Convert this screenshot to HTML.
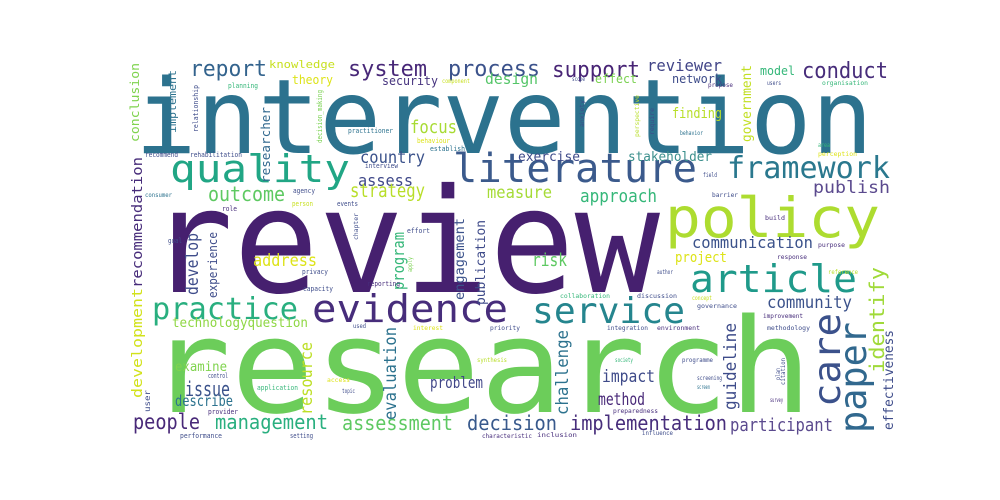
<!DOCTYPE html>
<html><head><meta charset="utf-8">
<style>
html,body{margin:0;padding:0;background:#fff;}
svg{display:block;}
text{font-family:"DejaVu Sans Mono","Liberation Mono",monospace;}
</style></head>
<body>
<svg id="cloud" width="1000" height="500" viewBox="0 0 1000 500" xmlns="http://www.w3.org/2000/svg">
<rect x="0" y="0" width="1000" height="500" fill="#ffffff"/>
</svg>
<script>
// [word, x, baselineY, fontSize, color, vertical, length]
const words = [
["intervention",135,153,103,"#2c728e",0,738],
["review",148,292,145,"#46206f",0,512],
["research",148,412,131,"#6ccd5a",0,664],
["policy",665,237,55,"#addc30",0,215],
["literature",453,182,40,"#3b5a8c",0,244],
["quality",170,182,38,"#21a685",0,180],
["framework",727,178,30,"#2a788e",0,163],
["article",690,292,38,"#1f9a8a",0,167],
["evidence",312,322,38,"#472d7b",0,196],
["service",532,323,36,"#25858e",0,153],
["practice",152,319,30,"#29af7f",0,146],
["care",840,407,37,"#3b518b",1,94],
["paper",866,433,37,"#31688e",1,111],
["identify",884,373,20,"#a0da39",1,106],
["effectiveness",893,430,13,"#3e4c8a",1,100],
["report",190,76,22,"#33638d",0,77],
["knowledge",269,68,11,"#c8e020",0,66],
["system",348,76,22,"#482878",0,79],
["process",448,76,22,"#3b528b",0,92],
["theory",292,84,12,"#dde318",0,41],
["security",382,85,12,"#46337e",0,56],
["component",442,83,6,"#c8e020",0,28],
["design",485,84,15,"#54c568",0,53],
["planning",228,88,7,"#35b779",0,30],
["relationship",198,132,7,"#3e4c8a",1,47],
["decision_making",322,143,7,"#7ad151",1,53],
["practitioner",348,133,7,"#2c728e",0,45],
["behaviour",417,143,7,"#dde318",0,33],
["establish",430,151,7,"#2c728e",0,35],
["interview",365,168,7,"#3e4c8a",0,33],
["recommend",145,157,7,"#3e4c8a",0,33],
["rehabilitation",190,157,7,"#3e4c8a",0,52],
["consumer",145,197,6,"#2c728e",0,27],
["agency",293,193,7,"#3e4c8a",0,22],
["person",292,206,7,"#c8e020",0,21],
["events",337,206,7,"#3e4c8a",0,21],
["role",222,211,7,"#472d7b",0,15],
["effort",407,233,7,"#3e4c8a",0,23],
["chapter",358,240,6,"#3e4c8a",1,27],
["goal",168,243,7,"#3e4c8a",0,14],
["focus",410,133,18,"#a8db34",0,47],
["country",360,163,17,"#3b528b",0,65],
["assess",358,186,16,"#3f4889",0,55],
["outcome",208,201,20,"#5ec962",0,77],
["strategy",350,197,19,"#b8de29",0,75],
["measure",487,198,17,"#a5db36",0,65],
["conclusion",139,142,12,"#7fd34e",1,79],
["implement",176,133,11,"#2c728e",1,63],
["researcher",270,183,12,"#31688e",1,76],
["recommendation",142,288,14,"#472c7a",1,131],
["development",142,398,14,"#d2e21b",1,110],
["government",751,142,13,"#c2df23",1,77],
["support",552,77,22,"#482475",0,88],
["reviewer",647,71,16,"#414487",0,75],
["effect",595,83,12,"#7ad151",0,42],
["scope",572,81,6,"#3e4c8a",0,13],
["network",672,83,12,"#3e4c8a",0,50],
["propose",708,87,6,"#472d7b",0,25],
["model",760,75,12,"#35b779",0,35],
["conduct",802,78,22,"#472c7a",0,86],
["users",767,85,6,"#3e4c8a",0,14],
["organisation",822,85,6,"#35b779",0,46],
["finding",672,118,14,"#b8de29",0,50],
["anxiety",584,127,6,"#3e4c8a",1,27],
["perspective",639,137,6,"#b8de29",1,42],
["require",654,135,6,"#3e4c8a",1,27],
["behavior",680,135,6,"#2c728e",0,23],
["area",818,147,6,"#35b779",0,12],
["perception",818,156,6,"#dde318",0,39],
["exercise",518,161,13,"#3e4a89",0,62],
["stakeholder",628,161,13,"#3b8f8c",0,84],
["publish",813,193,17,"#5b4a8e",0,77],
["approach",580,202,18,"#35b779",0,77],
["field",703,177,6,"#3e4c8a",0,14],
["barrier",712,197,6,"#3e4c8a",0,26],
["build",765,220,6,"#472d7b",0,20],
["purpose",818,247,6,"#472d7b",0,27],
["communication",692,248,16,"#3b528b",0,121],
["develop",198,295,17,"#3e4c8a",1,62],
["experience",217,298,12,"#3e4c8a",1,66],
["address",253,266,17,"#dde318",0,64],
["program",404,290,16,"#35b779",1,58],
["privacy",302,274,7,"#3e4c8a",0,26],
["reporting",367,286,7,"#472d7b",0,33],
["capacity",303,291,7,"#3e4c8a",0,30],
["apply",412,272,6,"#7ad151",1,15],
["engagement",464,300,13,"#3b528b",1,82],
["publication",485,305,13,"#3e4a89",1,85],
["technologyquestion",172,327,13,"#8fd744",0,136],
["user",150,412,8,"#3e4c8a",1,22],
["examine",175,371,13,"#7fd34e",0,52],
["control",208,378,7,"#3e4c8a",0,20],
["issue",185,396,20,"#3b528b",0,45],
["describe",175,406,15,"#2c728e",0,58],
["provider",208,414,7,"#472d7b",0,30],
["people",133,429,21,"#482878",0,67],
["management",215,429,20,"#29af7f",0,113],
["performance",180,438,7,"#3e4c8a",0,42],
["setting",290,438,7,"#3e4c8a",0,23],
["resource",312,415,17,"#bddf26",1,73],
["evaluation",396,420,17,"#2c728e",1,93],
["application",257,390,7,"#35b779",0,41],
["access",327,382,6,"#dde318",0,23],
["topic",342,393,6,"#3e4c8a",0,13],
["problem",430,388,16,"#404688",0,53],
["assessment",342,430,20,"#5ec962",0,111],
["decision",467,430,20,"#38598c",0,90],
["synthesis",477,362,6,"#b8de29",0,30],
["used",353,328,6,"#3e4c8a",0,13],
["interest",413,330,6,"#dde318",0,30],
["priority",490,330,6,"#3e4c8a",0,30],
["risk",532,266,18,"#5ec962",0,35],
["project",675,262,14,"#dde318",0,52],
["response",777,259,6,"#472d7b",0,30],
["author",657,274,6,"#3e4c8a",0,16],
["reference",828,274,6,"#b8de29",0,30],
["collaboration",560,298,6,"#35b779",0,50],
["discussion",637,298,6,"#3e4c8a",0,40],
["concept",692,300,6,"#c8e020",0,20],
["community",767,308,17,"#3b528b",0,85],
["governance",697,308,6,"#3e4c8a",0,40],
["improvement",763,318,6,"#472d7b",0,40],
["integration",607,330,6,"#3e4c8a",0,41],
["environment",657,330,6,"#472d7b",0,43],
["methodology",767,330,6,"#3e4c8a",0,43],
["challenge",568,415,17,"#2c728e",1,85],
["guideline",736,410,17,"#3e4c8a",1,87],
["society",615,362,6,"#35b779",0,18],
["programme",682,362,6,"#3e4c8a",0,31],
["plan",780,380,6,"#3e4c8a",1,12],
["citation",785,385,6,"#3e4c8a",1,27],
["screening",697,380,6,"#3e4c8a",0,25],
["screen",697,389,6,"#2c728e",0,13],
["survey",770,402,6,"#472d7b",0,13],
["impact",602,382,17,"#3e4a89",0,53],
["method",598,405,17,"#482878",0,47],
["preparedness",613,413,6,"#472d7b",0,45],
["implementation",570,430,20,"#472d7b",0,157],
["participant",730,431,18,"#5b4a8e",0,103],
["characteristic",482,438,6,"#472d7b",0,50],
["inclusion",537,437,6,"#472d7b",0,40],
["influence",642,435,6,"#3e4c8a",0,31]
];
const svg = document.getElementById('cloud');
const NS = 'http://www.w3.org/2000/svg';
for (const w of words) {
  const t = document.createElementNS(NS, 'text');
  
  
  t.setAttribute('font-size', w[3]);
  t.setAttribute('fill', w[4]);
  t.setAttribute('textLength', w[6]);
  t.setAttribute('lengthAdjust', 'spacingAndGlyphs');
  if (w[5]) {
    t.setAttribute('transform', 'translate(' + w[1] + ',' + w[2] + ') rotate(-90)');
    t.setAttribute('x', 0);
    t.setAttribute('y', 0);
  } else {
    t.setAttribute('x', w[1]);
    t.setAttribute('y', w[2]);
  }
  t.textContent = w[0];
  svg.appendChild(t);
}
</script>
</body></html>
